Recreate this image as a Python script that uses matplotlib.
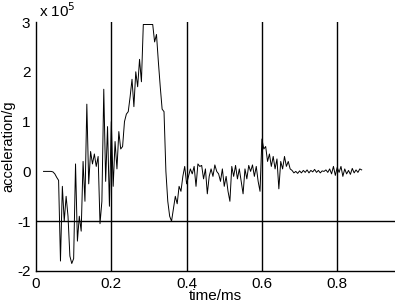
import numpy as np
import matplotlib
matplotlib.use("Agg")
import matplotlib.pyplot as plt

plt.rcParams['font.family'] = ['Liberation Sans', 'DejaVu Sans']

# time axis (ms): samples every 0.005 ms starting at 0.02
t_start = 0.02
t_step = 0.005
# acceleration in units of 1e5 g
accel = [
    0.0, 0.0, 0.0, 0.0, 0.0, -0.01, -0.05, -0.12, -0.18, -1.8,
    -0.3, -1.0, -0.5, -0.9, -1.7, -1.85, -1.75, 0.15, -1.4, -0.9,
    -1.2, 0.2, -0.6, 1.35, -0.25, 0.4, 0.15, 0.35, 0.1, 0.3,
    -1.05, -0.6, 1.65, -0.2, 0.9, -0.7, 1.0, -0.3, 0.6, 0.05,
    0.8, 0.45, 0.5, 1.0, 1.15, 1.2, 1.5, 1.85, 1.3, 2.0,
    1.7, 2.25, 1.8, 2.95, 2.95, 2.95, 2.95, 2.95, 2.95, 2.6,
    2.75, 2.2, 1.7, 1.25, 1.2, 0.0, -0.6, -0.9, -1.0, -0.75,
    -0.5, -0.65, -0.3, -0.4, -0.1, 0.1, -0.25, -0.1, 0.05, -0.05,
    0.1, -0.3, 0.15, 0.1, 0.12, -0.15, 0.05, -0.45, -0.1, 0.05,
    -0.1, 0.13, 0.0, -0.05, -0.2, 0.05, -0.3, -0.1, -0.4, -0.6,
    0.1, -0.1, 0.12, -0.15, 0.05, -0.2, -0.45, 0.05, -0.15, 0.12,
    0.0, 0.13, -0.1, 0.1, -0.2, -0.4, 0.65, 0.45, 0.5, 0.2,
    0.35, 0.1, 0.3, 0.05, 0.25, -0.35, 0.2, 0.05, 0.3, 0.1,
    0.2, 0.05, 0.02, -0.03, 0.0, -0.04, 0.01, -0.03, 0.02, -0.02,
    0.03, -0.03, 0.02, -0.01, 0.04, -0.02, 0.02, -0.03, 0.01, 0.0,
    0.03, -0.02, 0.05, -0.05, 0.1, -0.08, 0.08, -0.02, 0.1, -0.1,
    0.05, -0.05, 0.02, -0.06, 0.06, -0.03, 0.03, -0.02, 0.05, 0.03,
]
time = t_start + t_step * np.arange(len(accel))

x_ticks = [0, 0.2, 0.4, 0.6, 0.8]
x_ticklabels = ['0', '0.2', '0.4', '0.6', '0.8']
y_ticks = [-2, -1, 0, 1, 2, 3]
y_ticklabels = ['-2', '-1', '0', '1', '2', '3']
v_lines = [0.2, 0.4, 0.6, 0.8]
h_lines = [-1]

fig = plt.figure(figsize=(3.95, 3.07), dpi=100)
ax = fig.add_axes([36/395, 36/307, 1 - 36/395, 249/307])

ax.plot(time, accel, color='black', lw=0.7)
for v in v_lines:
    ax.axvline(v, color='black', lw=1.0)
for h in h_lines:
    ax.axhline(h, color='black', lw=1.0)

ax.set_xlim(0, 0.9535)
ax.set_ylim(-2, 3)
ax.set_xticks(x_ticks)
ax.set_xticklabels(x_ticklabels)
ax.set_yticks(y_ticks)
ax.set_yticklabels(y_ticklabels)
ax.tick_params(length=0, labelsize=11, pad=4, colors='black')
for s in ['top', 'right']:
    ax.spines[s].set_visible(False)
for s in ['left', 'bottom']:
    ax.spines[s].set_color('black')
    ax.spines[s].set_linewidth(1.0)

ax.set_xlabel('time/ms', fontsize=11, labelpad=-1)
ax.set_ylabel('acceleration/g', fontsize=10.5, labelpad=1)
fig.text(39/395, 1 - 11/307, r'x 10$^{5}$', fontsize=11, va='center', ha='left')

fig.savefig('out.png', dpi=100)
